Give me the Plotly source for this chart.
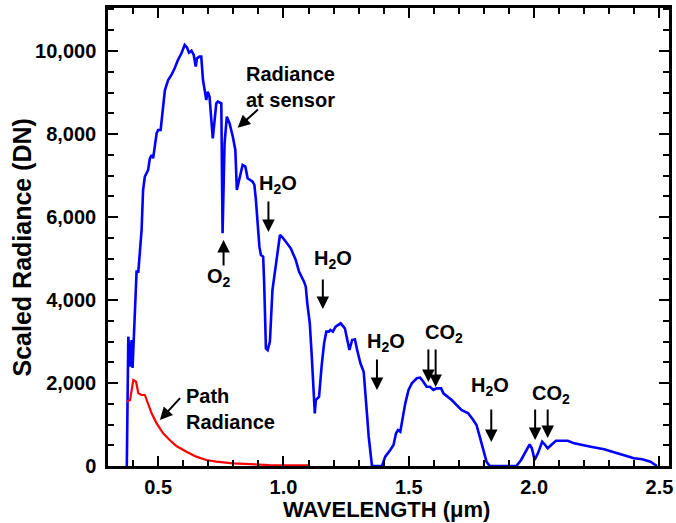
import plotly.graph_objects as go

# ---- data ----
sensor_wl = [0.375, 0.380, 0.381, 0.388, 0.394, 0.398, 0.408, 0.414, 0.421, 0.427, 0.434, 0.440, 0.447, 0.460,
             0.467, 0.474, 0.480, 0.494, 0.500, 0.510, 0.517, 0.527, 0.540, 0.553, 0.566, 0.579, 0.593, 0.606,
             0.615, 0.623, 0.633, 0.642, 0.650, 0.655, 0.665, 0.672, 0.679, 0.692, 0.698, 0.705, 0.718, 0.732,
             0.738, 0.752, 0.757, 0.765, 0.774, 0.785, 0.798, 0.808, 0.814, 0.824, 0.837, 0.848, 0.857, 0.877,
             0.884, 0.890, 0.897, 0.904, 0.910, 0.919, 0.923, 0.927, 0.930, 0.937, 0.946, 0.956, 0.970, 0.986,
             0.996, 1.010, 1.029, 1.049, 1.062, 1.082, 1.089, 1.095, 1.105, 1.113, 1.119, 1.125, 1.129, 1.142,
             1.152, 1.162, 1.171, 1.181, 1.187, 1.197, 1.208, 1.228, 1.245, 1.254, 1.263, 1.274, 1.285, 1.294,
             1.307, 1.320, 1.327, 1.333, 1.340, 1.347, 1.353, 1.393, 1.406, 1.426, 1.439, 1.449, 1.457, 1.466,
             1.472, 1.486, 1.499, 1.512, 1.532, 1.545, 1.558, 1.571, 1.584, 1.598, 1.611, 1.629, 1.638, 1.671,
             1.710, 1.737, 1.757, 1.770, 1.783, 1.796, 1.810, 1.823, 1.929, 1.948, 1.968, 1.982, 1.991, 2.002,
             2.015, 2.032, 2.044, 2.054, 2.068, 2.087, 2.134, 2.160, 2.226, 2.279, 2.332, 2.398, 2.431, 2.464,
             2.490]
sensor_dn = [0, 3000, 3116, 2393, 3036, 2361, 4000, 4683, 4683, 5205, 5687, 6651, 6972, 7133,
             7414, 7494, 7414, 8016, 8096, 8096, 8498, 9060, 9301, 9422, 9583, 9783, 9944, 10145,
             10088, 9959, 10008, 9904, 9623, 9824, 9864, 9864, 9301, 8819, 9020, 8899, 7896, 8739,
             8779, 8739, 5607, 7775, 8418, 8257, 7936, 7614, 6651, 6892, 7253, 7213, 6932, 6851,
             6771, 6410, 5767, 5286, 5084, 5044, 4402, 3438, 2835, 2795, 2996, 4241, 4803, 5566,
             5510, 5406, 5245, 4964, 4683, 4442, 4321, 3920, 3438, 2635, 1831, 1269, 1590, 1671,
             2393, 2956, 3237, 3237, 3277, 3237, 3357, 3438, 3317, 3036, 2795, 3036, 3052, 2795,
             2474, 2273, 1831, 1269, 707, 225, 0, 0, 225, 386, 506, 787, 867, 827,
             1028, 1510, 1831, 1992, 2113, 2130, 2032, 1911, 1911, 1831, 1871, 1871, 1751, 1590,
             1349, 1269, 1108, 988, 707, 386, 104, 0, 0, 145, 386, 522, 426, 145,
             305, 586, 506, 426, 506, 610, 610, 546, 466, 402, 305, 185, 161, 104,
             0]

path_wl = [0.375, 0.388, 0.401, 0.412, 0.421, 0.434, 0.447, 0.460, 0.474, 0.494, 0.520, 0.546, 0.573,
           0.613, 0.652, 0.692, 0.732, 0.798, 0.864, 0.943, 1.100]
path_dn = [1550, 1590, 2072, 2032, 1751, 1711, 1711, 1510, 1269, 1028, 787, 627, 482,
           345, 225, 145, 104, 64, 40, 24, 15]

x_tick_vals = [0.5, 1.0, 1.5, 2.0, 2.5]
x_tick_text = ["0.5", "1.0", "1.5", "2.0", "2.5"]
y_tick_vals = [0, 2000, 4000, 6000, 8000, 10000]
y_tick_text = ["0", "2,000", "4,000", "6,000", "8,000", "10,000"]

# labels: (text, wavelength, DN)
labels = [
    ("H<sub>2</sub>O", 0.979, 6795),
    ("H<sub>2</sub>O", 1.197, 4964),
    ("H<sub>2</sub>O", 1.411, 2988),
    ("CO<sub>2</sub>", 1.640, 3181),
    ("H<sub>2</sub>O", 1.824, 1904),
    ("CO<sub>2</sub>", 2.068, 1735),
    ("O<sub>2</sub>", 0.742, 4554),
]
# arrows: (head wl, head DN, tail wl, tail DN)
arrows = [
    (0.940, 5639, 0.940, 6410),
    (1.157, 3783, 1.157, 4530),
    (1.373, 1831, 1.373, 2602),
    (1.578, 2024, 1.578, 2843),
    (1.607, 1904, 1.607, 2843),
    (1.829, 578, 1.829, 1398),
    (2.004, 627, 2.004, 1398),
    (2.054, 675, 2.054, 1398),
    (0.761, 5446, 0.761, 4795),
    (0.817, 8152, 0.904, 8620),
    (0.507, 1108, 0.593, 1670),
]

FONT = "Liberation Sans, Arial, Helvetica, sans-serif"

fig = go.Figure()
fig.add_trace(go.Scatter(x=sensor_wl, y=sensor_dn, mode="lines",
                         line=dict(color="#0000ff", width=2.6), showlegend=False, hoverinfo="skip"))
fig.add_trace(go.Scatter(x=path_wl, y=path_dn, mode="lines",
                         line=dict(color="#ff0000", width=2.2), showlegend=False, hoverinfo="skip"))

ann = []
for t, xx, yy in labels:
    ann.append(dict(x=xx, y=yy, xref="x", yref="y", text=t, showarrow=False,
                    font=dict(family=FONT, size=20, color="black", weight="bold"),
                    xanchor="center", yanchor="middle"))
for hx, hy, tx, ty in arrows:
    ann.append(dict(x=hx, y=hy, xref="x", yref="y", ax=tx, ay=ty, axref="x", ayref="y",
                    text="", showarrow=True, arrowhead=2, arrowsize=1.25, arrowwidth=2,
                    arrowcolor="black", standoff=0, startstandoff=0))
ann.append(dict(x=0.844, y=9133, xref="x", yref="y", text="Radiance<br>at sensor", showarrow=False,
                align="left", xanchor="left", yanchor="middle",
                font=dict(family=FONT, size=20, color="black", weight="bold")))
ann.append(dict(x=0.602, y=1373, xref="x", yref="y", text="Path<br>Radiance", showarrow=False,
                align="left", xanchor="left", yanchor="middle",
                font=dict(family=FONT, size=20, color="black", weight="bold")))
ann.append(dict(x=0.496, y=-0.094, xref="paper", yref="paper", text="WAVELENGTH (μm)", showarrow=False,
                xanchor="center", yanchor="middle",
                font=dict(family=FONT, size=22, color="black", weight="bold")))
ann.append(dict(x=-0.1525, y=0.4956, xref="paper", yref="paper", text="Scaled Radiance (DN)",
                showarrow=False, textangle=-90, xanchor="center", yanchor="middle", yshift=-8,
                font=dict(family=FONT, size=25, color="black", weight="bold")))

axis_common = dict(showgrid=False, zeroline=False, showline=True, linecolor="black", linewidth=2.5,
                   mirror="allticks", ticks="inside", ticklen=10, tickwidth=2, tickcolor="black",
                   tickfont=dict(family=FONT, size=20, color="black", weight="bold"))

fig.update_layout(
    width=676, height=523,
    margin=dict(l=108, r=4, t=8, b=57),
    paper_bgcolor="white", plot_bgcolor="white",
    annotations=ann,
    xaxis=dict(range=[0.3, 2.538], tickvals=x_tick_vals, ticktext=x_tick_text,
               minor=dict(dtick=0.1, tick0=0.0, ticks="inside", ticklen=6, tickwidth=2, tickcolor="black"),
               ticklabelstandoff=1, **axis_common),
    yaxis=dict(range=[0, 11036], tickvals=y_tick_vals, ticktext=y_tick_text,
               minor=dict(dtick=500, tick0=0, ticks="inside", ticklen=6, tickwidth=2, tickcolor="black"),
               ticklabelstandoff=5, **axis_common),
)

fig.write_html("out.html")
